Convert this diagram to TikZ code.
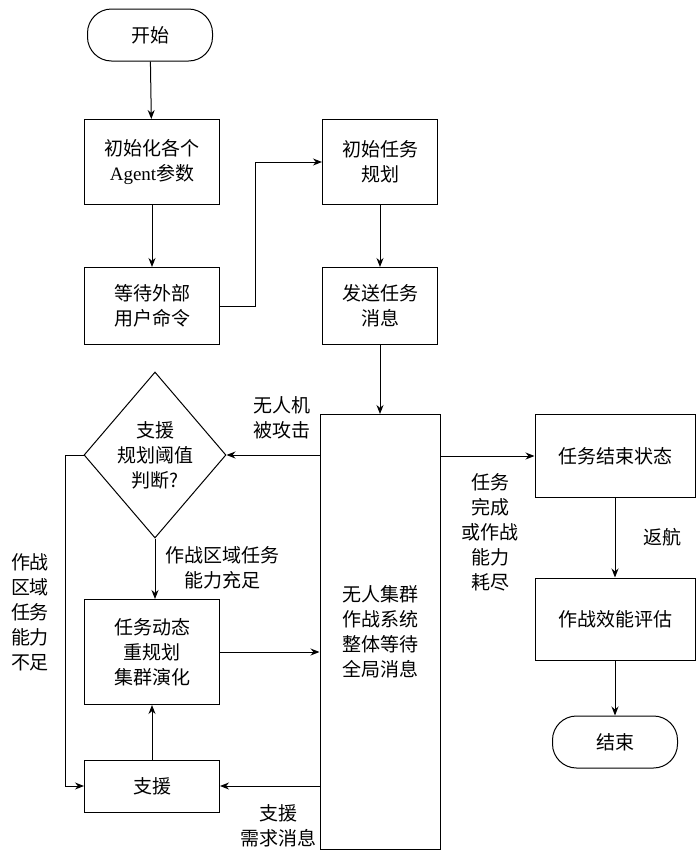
\documentclass[tikz,border=0pt]{standalone}
\usepackage{fontspec}
\setmainfont{Liberation Serif}
\newfontfamily\cjk{Noto Sans CJK SC}
\usetikzlibrary{shapes.geometric,arrows.meta}
\begin{document}
\begin{tikzpicture}[x=1pt,y=-1pt,
  font=\cjk\fontsize{19}{25}\selectfont,
  box/.style={draw,line width=1pt,align=center,inner sep=0pt},
  term/.style={box,rounded corners=24pt,minimum width=125pt,minimum height=52pt},
  arr/.style={line width=1pt,-{Stealth[length=9pt,width=7pt]}},
  lab/.style={align=center,inner sep=1pt}]
\useasboundingbox (0,0) rectangle (700,852);
\node[term] (start) at (150,35) {开始};
\node[box,minimum width=135pt,minimum height=85pt] (init) at (152,162) {初始化各个\\{\rmfamily Agent}参数};
\node[box,minimum width=135pt,minimum height=77pt] (wait) at (152,306) {等待外部\\用户命令};
\node[box,minimum width=115pt,minimum height=85pt] (plan) at (380,162) {初始任务\\规划};
\node[box,minimum width=115pt,minimum height=77pt] (send) at (380,306) {发送任务\\消息};
\node[box,minimum width=120pt,minimum height=435pt] (sys) at (380,632) {无人集群\\作战系统\\整体等待\\全局消息};
\node[box,diamond,aspect=0.85,minimum width=142pt,minimum height=166pt] (dia) at (155,455) {支援\\规划阈值\\判断?};
\node[box,minimum width=135pt,minimum height=105pt] (dyn) at (152,652) {任务动态\\重规划\\集群演化};
\node[box,minimum width=135pt,minimum height=52pt] (sup) at (152,786) {支援};
\node[box,minimum width=160pt,minimum height=83pt] (endst) at (615,456) {任务结束状态};
\node[box,minimum width=160pt,minimum height=82pt] (eval) at (615,619) {作战效能评估};
\node[term] (fin) at (615,742) {结束};
\coordinate (c1) at (255,306);
\coordinate (c2) at (255,162);
\coordinate (d1) at (65,455);
\coordinate (d2) at (65,786);
\draw[arr] (start) -- (init);
\draw[arr] (init) -- (wait);
\draw[arr] (wait.east) -- (c1) -- (c2) -- (plan.west);
\draw[arr] (plan) -- (send);
\draw[arr] (send) -- (send.south |- sys.north);
\draw[arr] (sys.west |- dia.east) -- (dia.east);
\draw[arr] (dia.south) -- (dia.south |- dyn.north);
\draw[arr] (dia.west) -- (d1) -- (d2) -- (sup.west);
\draw[arr] (dyn.east) -- (sys.west |- dyn.east);
\draw[arr] (sys.west |- sup.east) -- (sup.east);
\draw[arr] (sup) -- (dyn);
\draw[arr] (sys.east |- endst.west) -- (endst.west);
\draw[arr] (endst) -- (eval);
\draw[arr] (eval) -- (fin);
\node[lab] (l1) at (282,418) {无人机\\被攻击};
\node[lab] (l2) at (222,568) {作战区域任务\\能力充足};
\node[lab] (l3) at (30,612) {作战\\区域\\任务\\能力\\不足};
\node[lab] (l4) at (278,826) {支援\\需求消息};
\node[lab] (l5) at (490,532) {任务\\完成\\或作战\\能力\\耗尽};
\node[lab] (l6) at (662,537) {返航};
\end{tikzpicture}
\end{document}
